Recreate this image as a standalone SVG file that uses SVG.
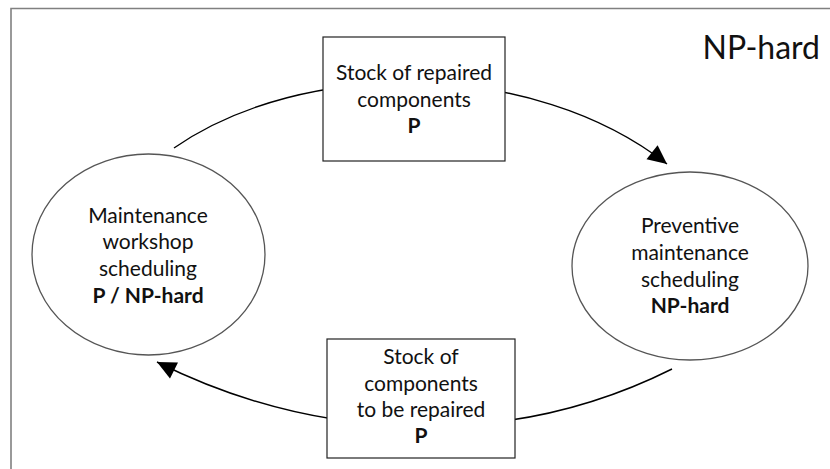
<svg xmlns="http://www.w3.org/2000/svg" width="830" height="469" viewBox="0 0 830 469">
<style>
text{font-family:Lato,"Open Sans","Liberation Sans",sans-serif;fill:#111;text-anchor:middle}
.t{font-size:21px}
.b{font-weight:bold}
.ell{fill:#fff;stroke:#555;stroke-width:1.3}
.box{fill:#fff;stroke:#222;stroke-width:1.2}
.con{fill:none;stroke:#000;stroke-width:1.4}
</style>
<defs>
<marker id="arr" markerUnits="userSpaceOnUse" viewBox="-20 -10 21 20" refX="0" refY="0" markerWidth="21" markerHeight="20" orient="auto">
<path d="M0,0 L-19,-9 L-19,9 Z" fill="#000"/>
</marker>
</defs>
<rect x="0" y="0" width="830" height="469" fill="#fff"/>
<path d="M11,469 L11,8.5 L830,8.5" fill="none" stroke="#808080" stroke-width="1.6"/>
<text x="820" y="59" style="font-size:32px;text-anchor:end">NP-hard</text>
<g id="connectors">
<path class="con" d="M174,148 C304,58 533,59 667,164" marker-end="url(#arr)"/>
<path class="con" d="M672,369 C510,450 319,443 157,362" marker-end="url(#arr)"/>
</g>
<g id="stock-repaired">
<rect class="box" x="323" y="37" width="182" height="124"/>
<text class="t" x="414" y="80">Stock of repaired</text>
<text class="t" x="414" y="107">components</text>
<text class="t b" x="414" y="133">P</text>
</g>
<g id="workshop">
<ellipse class="ell" cx="148.5" cy="254.5" rx="116.5" ry="100.5"/>
<text class="t" x="148" y="223">Maintenance</text>
<text class="t" x="148" y="249">workshop</text>
<text class="t" x="148" y="276">scheduling</text>
<text class="t b" x="148" y="303">P / NP-hard</text>
</g>
<g id="preventive">
<ellipse class="ell" cx="690" cy="266" rx="118" ry="94"/>
<text class="t" x="690" y="233">Preventive</text>
<text class="t" x="690" y="260">maintenance</text>
<text class="t" x="690" y="287">scheduling</text>
<text class="t b" x="690" y="313">NP-hard</text>
</g>
<g id="stock-to-repair">
<rect class="box" x="327" y="339" width="188" height="119"/>
<text class="t" x="421" y="364">Stock of</text>
<text class="t" x="421" y="391">components</text>
<text class="t" x="421" y="417">to be repaired</text>
<text class="t b" x="421" y="443">P</text>
</g>
</svg>
